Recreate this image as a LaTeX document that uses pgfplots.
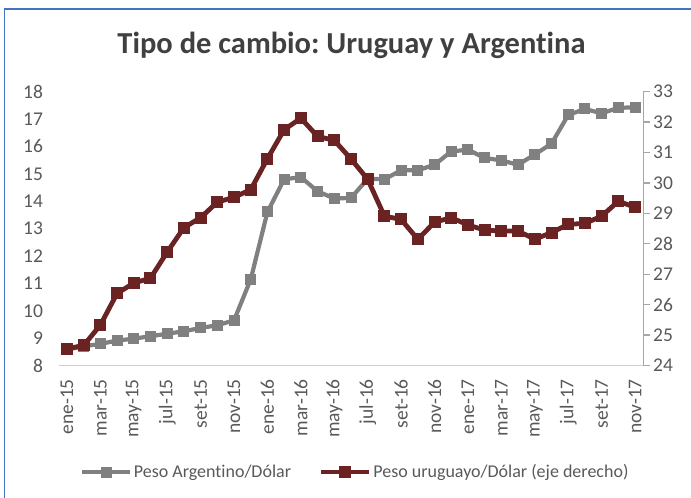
\documentclass[border=0pt]{standalone}
\usepackage{fontspec}
\setmainfont{Carlito}[Ligatures=NoCommon]
\usepackage{pgfplots}
\usepackage{pgfplotstable}
\pgfplotsset{compat=1.18}
\frenchspacing
\definecolor{argc}{HTML}{808080}
\definecolor{uyc}{HTML}{6A2222}
\definecolor{lbl}{HTML}{595959}
\definecolor{ttl}{HTML}{404040}
\definecolor{frameblue}{HTML}{4472C4}
\definecolor{botgray}{HTML}{D0D0D0}
\definecolor{rgtgray}{HTML}{A6A6A6}

\pgfplotstableread{
x ar
0 8.58
1 8.70
2 8.79
3 8.91
4 8.98
5 9.07
6 9.16
7 9.25
8 9.37
9 9.47
10 9.65
11 11.15
12 13.61
13 14.80
14 14.88
15 14.36
16 14.10
17 14.12
18 14.82
19 14.80
20 15.13
21 15.13
22 15.33
23 15.82
24 15.88
25 15.58
26 15.49
27 15.33
28 15.71
29 16.10
30 17.15
31 17.37
32 17.21
33 17.41
34 17.43
}\artable

\pgfplotstableread{
x uy
0 24.55
1 24.66
2 25.33
3 26.37
4 26.71
5 26.87
6 27.73
7 28.53
8 28.86
9 29.37
10 29.53
11 29.78
12 30.80
13 31.75
14 32.13
15 31.53
16 31.40
17 30.79
18 30.12
19 28.91
20 28.80
21 28.15
22 28.71
23 28.86
24 28.62
25 28.45
26 28.42
27 28.42
28 28.15
29 28.37
30 28.64
31 28.67
32 28.91
33 29.40
34 29.20
}\uytable

\begin{document}
\begin{tikzpicture}
\useasboundingbox (0,0) rectangle (691bp,498bp);
\draw[frameblue, line width=1.8bp] (4.5bp,0bp) -- (4.5bp,488.7bp) -- (691bp,488.7bp);
\node[anchor=base, font=\fontsize{30.5bp}{36bp}\selectfont\bfseries, text=ttl, inner sep=0pt] at (351.5bp,444.7bp) {Tipo de cambio: Uruguay y Argentina};

\begin{axis}[
  at={(58.6bp,132.5bp)}, anchor=south west,
  scale only axis, width=584.8bp, height=273.8bp,
  xmin=-0.5, xmax=34.5, ymin=8, ymax=18,
  axis x line*=bottom, axis y line*=left,
  x axis line style={draw=botgray, line width=1.3bp, -},
  y axis line style={draw=none},
  xtick={0,2,...,34},
  xticklabels={ene-15,mar-15,may-15,jul-15,set-15,nov-15,ene-16,mar-16,may-16,jul-16,set-16,nov-16,ene-17,mar-17,may-17,jul-17,set-17,nov-17},
  ytick={8,9,...,18},
  major tick length=0pt,
  tick style={draw=none},
  /pgf/number format/assume math mode=true,
  ticklabel style={font=\fontsize{19.5bp}{23bp}\selectfont, text=lbl},
  xticklabel style={rotate=90, anchor=east, inner sep=0pt},
  xticklabel shift=13.5bp,
  yticklabel style={anchor=east, inner sep=0pt},
  yticklabel shift=15.5bp,
  clip=false,
  legend columns=2,
  legend cell align=left,
  legend style={at={(0.0366,-0.389)}, anchor=west, draw=none, fill=none,
    inner sep=0pt, font=\fontsize{18bp}{21bp}\selectfont, text=lbl,
    nodes={inner sep=1bp},
    column sep=0.5bp,
    /tikz/every even column/.append style={column sep=27bp}},
  legend image code/.code={\draw[#1, mark indices={2}] plot coordinates {(0bp,0bp) (24bp,0bp) (48bp,0bp)};},
]
\addplot[argc, line width=4.2bp, line join=round, mark=square*, mark size=5bp, mark options={solid, fill=argc, draw=argc, line width=0pt}] table[x=x, y=ar] {\artable};
\addlegendentry{Peso Argentino/Dólar}
\addlegendimage{uyc, line width=4.8bp, line join=round, mark=square*, mark size=5.5bp, mark options={solid, fill=uyc, draw=uyc, line width=0pt}}
\addlegendentry{Peso uruguayo/Dólar (eje derecho)}
\end{axis}

\begin{axis}[
  at={(58.6bp,132.5bp)}, anchor=south west,
  scale only axis, width=584.8bp, height=273.8bp,
  xmin=-0.5, xmax=34.5, ymin=24, ymax=33,
  axis x line=none, axis y line*=right,
  y axis line style={draw=rgtgray, line width=1.3bp, -},
  ytick={24,25,...,33},
  tick align=outside,
  major tick length=7bp,
  ytick style={draw=rgtgray, line width=1.3bp},
  /pgf/number format/assume math mode=true,
  yticklabel style={font=\fontsize{19.5bp}{23bp}\selectfont, text=lbl, anchor=west, inner sep=0pt},
  yticklabel shift=2.6bp,
  clip=false,
]
\addplot[uyc, line width=4.8bp, line join=round, mark=square*, mark size=5.5bp, mark options={solid, fill=uyc, draw=uyc, line width=0pt}] table[x=x, y=uy] {\uytable};
\end{axis}
\end{tikzpicture}
\end{document}
